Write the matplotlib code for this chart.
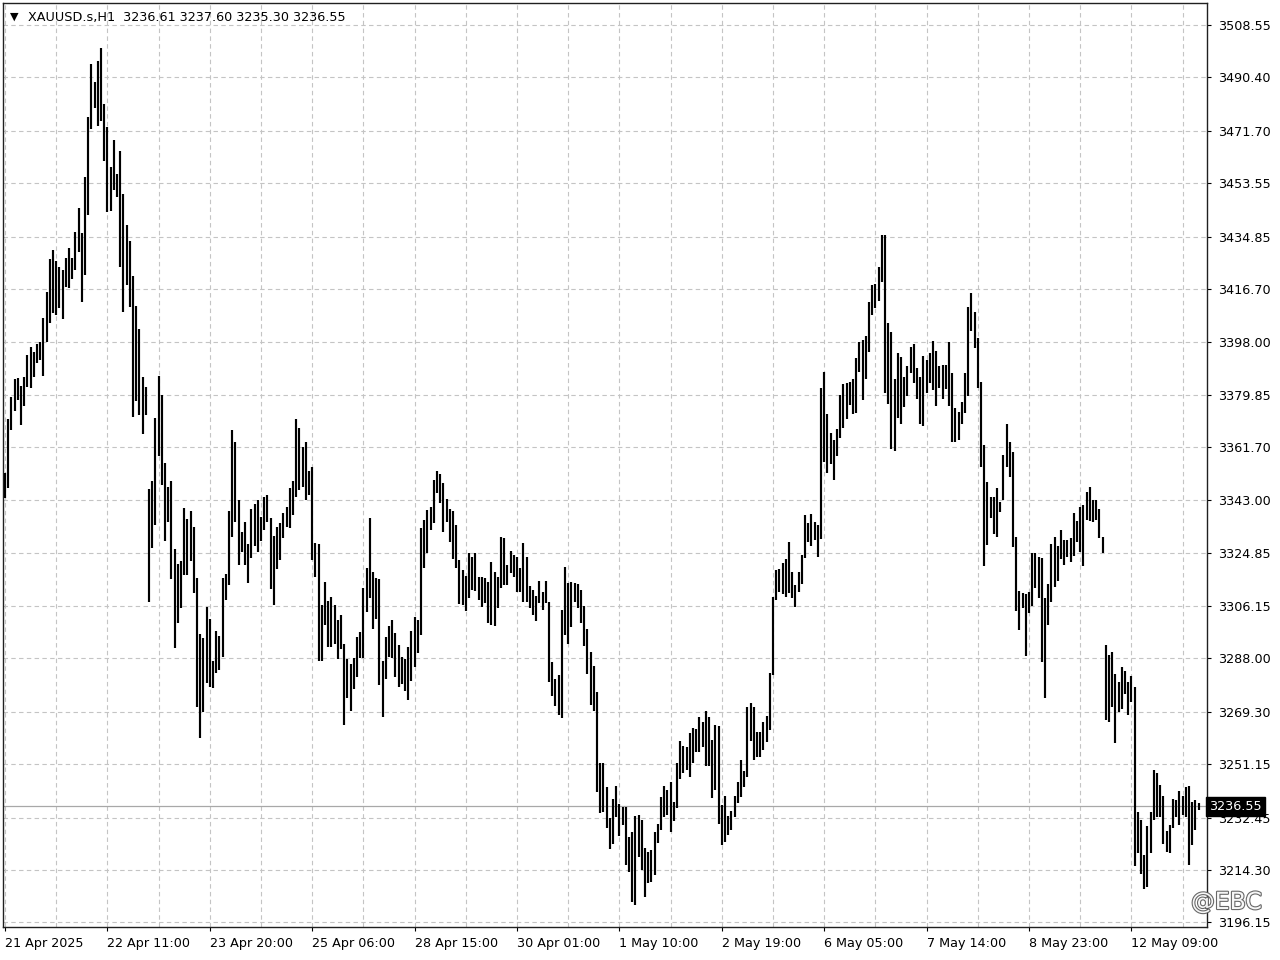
import matplotlib.pyplot as plt
import matplotlib.patheffects as pe

# hourly XAUUSD bars (high / low), oldest first
highs = [
    3352.4, 3371.2, 3378.9, 3385.2, 3385.7, 3382.9, 3386.1, 3393.6, 3396.3, 3394.6,
    3397.5, 3398.1, 3406.4, 3415.7, 3426.9, 3430.2, 3426.4, 3424.4, 3423.2, 3427.3,
    3430.8, 3427.3, 3436.6, 3444.7, 3436.0, 3455.5, 3476.6, 3494.9, 3488.8, 3496.1,
    3500.4, 3481.0, 3473.1, 3459.2, 3468.5, 3456.8, 3464.8, 3449.6, 3438.9, 3433.3,
    3421.1, 3410.8, 3402.8, 3386.0, 3382.5, 3347.0, 3349.7, 3371.6, 3386.5, 3379.8,
    3356.1, 3347.8, 3349.7, 3326.1, 3321.0, 3322.1, 3340.5, 3336.6, 3339.4, 3333.8,
    3316.0, 3296.5, 3295.0, 3306.0, 3301.7, 3287.2, 3297.7, 3295.9, 3315.9, 3317.4,
    3339.4, 3367.7, 3363.4, 3343.1, 3332.0, 3335.4, 3327.7, 3339.9, 3341.6, 3343.1,
    3337.3, 3344.3, 3344.9, 3336.8, 3330.5, 3333.8, 3335.3, 3338.7, 3340.6, 3347.2,
    3349.8, 3371.2, 3368.2, 3361.7, 3363.5, 3353.3, 3354.5, 3328.3, 3327.7, 3306.6,
    3314.7, 3308.1, 3309.3, 3306.6, 3301.4, 3303.1, 3293.2, 3287.7, 3286.0, 3288.0,
    3295.3, 3297.1, 3312.6, 3319.4, 3336.8, 3318.2, 3315.9, 3315.5, 3287.2, 3295.3,
    3299.3, 3301.4, 3297.0, 3292.7, 3288.6, 3287.7, 3291.9, 3297.7, 3302.5, 3301.4,
    3333.3, 3336.2, 3339.7, 3340.8, 3350.1, 3353.4, 3352.2, 3349.0, 3343.4, 3339.9,
    3339.4, 3334.4, 3322.3, 3318.8, 3316.7, 3324.6, 3323.4, 3324.8, 3316.2, 3316.2,
    3315.9, 3314.7, 3321.7, 3318.2, 3316.5, 3330.4, 3329.8, 3320.5, 3325.5, 3324.0,
    3323.4, 3319.4, 3328.3, 3323.4, 3313.2, 3311.8, 3309.7, 3314.9, 3311.2, 3314.9,
    3307.8, 3286.9, 3280.7, 3282.2, 3304.9, 3319.9, 3314.1, 3314.7, 3314.4, 3313.8,
    3311.8, 3306.3, 3298.1, 3290.4, 3285.4, 3276.4, 3251.5, 3251.7, 3243.1, 3232.5,
    3239.0, 3243.6, 3237.3, 3236.4, 3236.4, 3225.9, 3227.7, 3233.1, 3233.5, 3231.7,
    3221.9, 3220.7, 3221.3, 3227.7, 3230.3, 3239.6, 3243.6, 3242.2, 3245.1, 3238.1,
    3251.5, 3259.4, 3257.5, 3257.0, 3261.9, 3263.7, 3263.3, 3267.6, 3266.0, 3269.7,
    3267.6, 3259.6, 3264.8, 3264.5, 3237.0, 3240.1, 3233.1, 3235.0, 3240.1, 3245.1,
    3252.6, 3248.9, 3271.2, 3272.4, 3271.2, 3262.5, 3262.5, 3266.0, 3268.1, 3283.0,
    3309.3, 3318.8, 3319.0, 3321.1, 3322.5, 3328.6, 3318.2, 3313.6, 3318.2, 3323.9,
    3337.9, 3335.0, 3338.2, 3335.6, 3334.4, 3382.0, 3387.6, 3373.0, 3366.4, 3364.0,
    3367.9, 3379.7, 3383.4, 3383.8, 3384.3, 3385.3, 3392.5, 3398.3, 3398.9, 3400.3,
    3412.0, 3418.0, 3418.3, 3424.4, 3435.4, 3435.4, 3404.7, 3401.8, 3385.3, 3394.2,
    3392.8, 3386.0, 3389.7, 3396.3, 3397.5, 3389.0, 3385.9, 3393.3, 3391.9, 3394.2,
    3398.6, 3395.2, 3389.8, 3390.2, 3390.2, 3398.3, 3387.3, 3375.1, 3373.9, 3377.4,
    3387.3, 3410.2, 3415.1, 3408.5, 3399.4, 3384.4, 3362.3, 3349.5, 3344.3, 3344.3,
    3347.2, 3342.6, 3358.8, 3369.6, 3363.3, 3360.0, 3330.4, 3311.4, 3310.9, 3310.6,
    3311.2, 3324.6, 3324.6, 3323.4, 3322.8, 3308.9, 3313.9, 3327.8, 3330.4, 3327.1,
    3332.7, 3329.4, 3329.4, 3329.8, 3338.7, 3335.9, 3340.6, 3341.4, 3346.0, 3347.8,
    3343.1, 3343.1, 3339.9, 3330.4, 3292.7, 3289.2, 3290.3, 3282.6, 3279.9, 3284.9,
    3283.7, 3279.9, 3281.9, 3278.1, 3234.6, 3231.9, 3219.5, 3229.6, 3234.6, 3249.1,
    3248.0, 3243.9, 3240.1, 3228.0, 3230.0, 3238.9, 3238.7, 3241.9, 3240.1, 3243.3,
    3243.5, 3238.1, 3238.7, 3237.6,
]
lows = [
    3343.7, 3347.4, 3367.5, 3374.3, 3378.0, 3369.3, 3375.9, 3382.6, 3382.0, 3386.1,
    3391.0, 3391.9, 3386.5, 3398.3, 3404.7, 3408.2, 3407.6, 3409.9, 3406.1, 3417.4,
    3416.9, 3420.0, 3423.2, 3429.4, 3412.2, 3421.5, 3442.4, 3472.2, 3479.5, 3473.4,
    3475.1, 3461.3, 3443.6, 3443.7, 3451.2, 3448.5, 3424.4, 3408.5, 3418.1, 3410.4,
    3372.1, 3377.6, 3372.9, 3366.2, 3372.9, 3307.8, 3326.5, 3334.5, 3358.5, 3348.4,
    3328.9, 3335.6, 3315.6, 3291.8, 3300.5, 3305.7, 3317.2, 3317.0, 3321.8, 3310.9,
    3271.2, 3260.2, 3269.4, 3279.3, 3277.9, 3277.6, 3282.8, 3284.0, 3288.6, 3308.3,
    3313.6, 3330.4, 3335.5, 3320.4, 3325.1, 3320.4, 3314.4, 3322.8, 3327.0, 3325.1,
    3328.9, 3332.6, 3335.4, 3312.2, 3306.5, 3319.2, 3322.2, 3330.1, 3333.6, 3333.3,
    3337.9, 3344.1, 3346.8, 3347.8, 3343.2, 3344.9, 3322.3, 3316.2, 3287.2, 3287.2,
    3299.6, 3291.9, 3291.9, 3293.2, 3287.7, 3291.2, 3265.0, 3274.4, 3269.8, 3277.3,
    3281.6, 3288.0, 3288.0, 3304.3, 3308.9, 3298.2, 3301.6, 3278.7, 3267.7, 3280.7,
    3288.4, 3288.0, 3281.6, 3277.9, 3279.1, 3276.8, 3273.7, 3280.0, 3285.0, 3290.0,
    3296.0, 3319.4, 3324.8, 3332.7, 3335.1, 3345.7, 3342.2, 3332.1, 3335.6, 3328.6,
    3322.5, 3319.4, 3306.9, 3306.6, 3304.6, 3308.9, 3311.8, 3311.6, 3308.3, 3306.0,
    3307.2, 3300.4, 3299.6, 3299.3, 3305.4, 3312.4, 3313.5, 3313.5, 3317.9, 3316.5,
    3311.2, 3311.2, 3307.8, 3307.8, 3305.4, 3303.1, 3301.1, 3307.2, 3304.9, 3307.4,
    3279.9, 3274.9, 3271.4, 3268.3, 3267.1, 3296.2, 3293.0, 3298.8, 3307.8, 3305.4,
    3300.2, 3292.3, 3282.6, 3271.8, 3269.8, 3241.6, 3234.3, 3234.6, 3228.8, 3221.5,
    3223.4, 3232.9, 3226.2, 3230.0, 3216.1, 3213.7, 3203.3, 3202.1, 3219.0, 3214.3,
    3205.0, 3209.7, 3210.3, 3212.6, 3223.6, 3228.2, 3232.7, 3233.5, 3227.7, 3231.5,
    3235.8, 3246.2, 3248.0, 3249.1, 3246.6, 3251.7, 3255.5, 3255.4, 3257.3, 3250.7,
    3250.7, 3239.3, 3242.2, 3230.3, 3223.0, 3224.2, 3226.5, 3228.3, 3232.9, 3237.5,
    3239.9, 3243.3, 3246.6, 3259.4, 3252.6, 3253.8, 3253.8, 3256.1, 3259.0, 3263.1,
    3282.2, 3308.3, 3311.2, 3310.4, 3309.5, 3310.7, 3308.9, 3305.8, 3311.2, 3313.9,
    3322.8, 3328.6, 3327.2, 3329.2, 3323.4, 3329.6, 3356.3, 3352.4, 3355.6, 3350.1,
    3358.6, 3364.6, 3368.3, 3371.4, 3376.2, 3373.0, 3373.3, 3387.6, 3378.0, 3385.3,
    3394.6, 3407.6, 3409.9, 3412.5, 3419.2, 3380.3, 3376.5, 3360.9, 3360.2, 3371.8,
    3369.7, 3375.4, 3379.4, 3387.5, 3383.8, 3378.2, 3369.6, 3369.0, 3380.5, 3384.0,
    3381.5, 3375.9, 3382.0, 3378.5, 3381.7, 3375.9, 3363.5, 3363.5, 3364.0, 3369.6,
    3373.6, 3379.4, 3402.1, 3396.0, 3382.0, 3354.8, 3320.2, 3327.5, 3336.8, 3331.3,
    3330.2, 3339.1, 3343.2, 3354.8, 3351.0, 3326.9, 3304.5, 3297.9, 3305.4, 3288.8,
    3303.9, 3306.2, 3312.4, 3308.9, 3286.9, 3274.4, 3299.6, 3307.7, 3313.0, 3315.1,
    3322.5, 3320.5, 3323.4, 3321.7, 3323.6, 3328.6, 3325.2, 3320.2, 3336.2, 3335.9,
    3335.6, 3336.2, 3330.1, 3324.6, 3266.5, 3266.0, 3271.2, 3258.6, 3269.4, 3270.3,
    3275.6, 3268.3, 3272.9, 3215.7, 3220.3, 3213.1, 3207.6, 3208.3, 3220.3, 3231.7,
    3232.9, 3232.9, 3223.4, 3220.7, 3220.3, 3228.8, 3232.7, 3230.0, 3233.5, 3232.9,
    3216.0, 3223.0, 3228.2, 3235.3,
]

x_labels = ["21 Apr 2025", "22 Apr 11:00", "23 Apr 20:00", "25 Apr 06:00",
            "28 Apr 15:00", "30 Apr 01:00", "1 May 10:00", "2 May 19:00",
            "6 May 05:00", "7 May 14:00", "8 May 23:00", "12 May 09:00"]
x_label_bars = [0, 32, 64, 96, 128, 160, 192, 224, 256, 288, 320, 352]
y_labels = ["3508.55", "3490.40", "3471.70", "3453.55", "3434.85", "3416.70",
            "3398.00", "3379.85", "3361.70", "3343.00", "3324.85", "3306.15",
            "3288.00", "3269.30", "3251.15", "3232.45", "3214.30", "3196.15"]
last_price = 3236.55
header = "XAUUSD.s,H1  3236.61 3237.60 3235.30 3236.55"

plt.rcParams['font.family'] = ['DejaVu Sans']
fs = 9.2

fig = plt.figure(figsize=(12.8, 9.6), dpi=100)
ax = fig.add_axes([3 / 1280, 33 / 960, 1204 / 1280, 924 / 960])

bars = range(len(highs))
ax.vlines(bars, lows, highs, color="black", linewidth=1.55, zorder=3)

ax.set_xlim(-0.6, 375.6)
ax.set_ylim(3194.5, 3516.2)

# dashed grid: horizontal at every price label, vertical every 16 bars
grid_style = dict(color="#c4c4c4", linewidth=0.8, linestyle=(0, (4, 3)), zorder=1)
for lbl in y_labels:
    ax.axhline(float(lbl), **grid_style)
for b in range(0, 376, 16):
    ax.axvline(b, **grid_style)

# current price line
ax.axhline(last_price, color="#a8a8a8", linewidth=0.9, zorder=2)

ax.yaxis.tick_right()
ax.set_yticks([float(v) for v in y_labels])
ax.set_yticklabels(y_labels, fontsize=fs, ha="left")
ax.tick_params(axis="y", length=3, width=0.8, pad=5, colors="black")
ax.set_xticks(x_label_bars)
ax.set_xticklabels(x_labels, fontsize=fs, ha="left")
ax.tick_params(axis="x", length=3, width=0.8, pad=4)

for s in ax.spines.values():
    s.set_color("#202020")
    s.set_linewidth(1.0)

# price tag on the right axis
ax.text(1.0015, last_price, "3236.55", transform=ax.get_yaxis_transform(),
        fontsize=fs, color="white", va="center", ha="left", zorder=10,
        clip_on=False,
        bbox=dict(boxstyle="square,pad=0.25", facecolor="black", edgecolor="black"))

# header
fig.text(10 / 1280, 1 - 17 / 960, "\u25bc", fontsize=8, va="center", ha="left")
fig.text(28 / 1280, 1 - 17 / 960, header, fontsize=fs, va="center", ha="left")

# watermark (kept just above the lowest price label)
wm = fig.text(1262 / 1280, 1 - 902 / 960, "@EBC", fontsize=17, color="white",
              ha="right", va="center", alpha=0.95, zorder=20)
wm.set_path_effects([pe.withStroke(linewidth=1.6, foreground="#606060")])

fig.savefig("out.png", dpi=100, facecolor="white")
